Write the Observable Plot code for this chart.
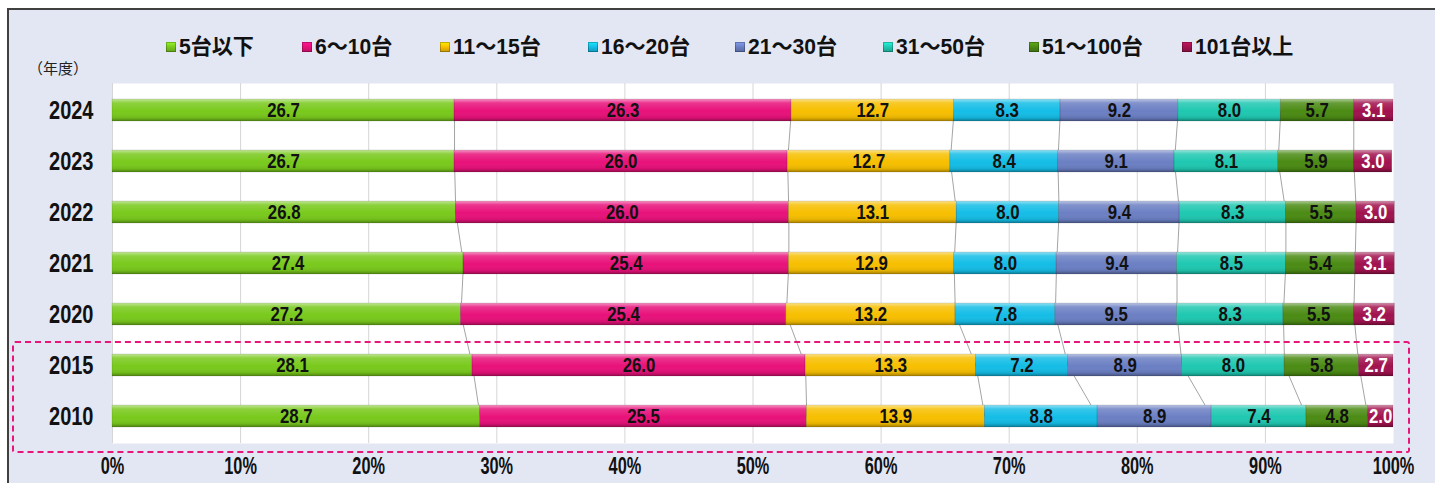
<!DOCTYPE html>
<html>
<head>
<meta charset="utf-8">
<script src="https://cdn.jsdelivr.net/npm/d3@7"></script>
<script src="https://cdn.jsdelivr.net/npm/@observablehq/plot@0.6"></script>
<style>
  html, body { margin: 0; padding: 0; }
  body { width: 1435px; height: 483px; overflow: hidden; background: #fff; position: relative;
         font-family: "Liberation Sans","Noto Sans CJK JP",sans-serif; }
  #frame { position: absolute; left: 7px; top: 8px; width: 1440px; height: 490px; background: #e3e7f3;
           border-top: 2px solid #404040; border-left: 2px solid #404040; }
  #chart { position: absolute; left: 0; top: 0; }
  #legend { position: absolute; left: 0; top: 0; width: 1435px; height: 80px; }
  #legend .item { position: absolute; top: 36px; display: flex; align-items: center; white-space: nowrap;
                  font-weight: bold; font-size: 21.5px; line-height: 22px; color: #111; }
  #legend .sw { width: 10px; height: 10px; margin-right: 3px; flex: none; box-shadow: inset 0 0 0 1px rgba(0,0,0,0.25); }
  #legend .tx { display: inline-block; transform: scaleX(0.98); transform-origin: left center; }
  #unit { position: absolute; left: 28px; top: 57px; font-size: 15px; color: #222; font-family: "Noto Sans CJK JP", sans-serif; }
  #dash { position: absolute; left: 12px; top: 341px; width: 1394px; height: 108px;
          border: 2px dashed #e8157a; border-radius: 3px; }
</style>
</head>
<body>
<div id="frame"></div>
<div id="unit">（年度）</div>
<div id="legend"></div>
<div id="chart"></div>
<div id="dash"></div>
<script>
// ---- data ----
const years = ["2024", "2023", "2022", "2021", "2020", "2015", "2010"];
const categories = ["5台以下", "6～10台", "11～15台", "16～20台", "21～30台", "31～50台", "51～100台", "101台以上"];
const colors = ["#79c91c", "#e8117a", "#f7bf00", "#14bde6", "#6b7fc3", "#1fc8b1", "#4b8b14", "#a1124e"];
const s5orLess = [26.7, 26.7, 26.8, 27.4, 27.2, 28.1, 28.7];
const s6to10 = [26.3, 26.0, 26.0, 25.4, 25.4, 26.0, 25.5];
const s11to15 = [12.7, 12.7, 13.1, 12.9, 13.2, 13.3, 13.9];
const s16to20 = [8.3, 8.4, 8.0, 8.0, 7.8, 7.2, 8.8];
const s21to30 = [9.2, 9.1, 9.4, 9.4, 9.5, 8.9, 8.9];
const s31to50 = [8.0, 8.1, 8.3, 8.5, 8.3, 8.0, 7.4];
const s51to100 = [5.7, 5.9, 5.5, 5.4, 5.5, 5.8, 4.8];
const s101plus = [3.1, 3.0, 3.0, 3.1, 3.2, 2.7, 2.0];
const xTicks = [0, 10, 20, 30, 40, 50, 60, 70, 80, 90, 100];

const series = [s5orLess, s6to10, s11to15, s16to20, s21to30, s31to50, s51to100, s101plus];

// ---- derived table (stacked) ----
const rows = [];
const cums = years.map((y, i) => {
  let c = 0; const out = [0];
  series.forEach((s, k) => {
    rows.push({year: y, cat: categories[k], value: s[i], x1: c, x2: c + s[i], mid: c + s[i] / 2, last: k === series.length - 1});
    c += s[i]; out.push(c);
  });
  return out;
});
const links = [];
for (let i = 0; i < years.length - 1; i++) {
  for (let k = 1; k < categories.length; k++) {
    links.push({y1: years[i], y2: years[i + 1], x1: cums[i][k], x2: cums[i + 1][k]});
  }
}

// ---- legend ----
const legendLeft = [166, 302, 440, 588, 735, 883, 1029, 1182];
const leg = document.getElementById("legend");
categories.forEach((c, k) => {
  const it = document.createElement("div"); it.className = "item";
  it.style.left = legendLeft[k] + "px";
  const sw = document.createElement("div"); sw.className = "sw";
  sw.style.background = `linear-gradient(180deg, ${d3.color(colors[k]).brighter(0.6)} 0%, ${colors[k]} 50%, ${d3.color(colors[k]).darker(0.6)} 100%)`;
  const t = document.createElement("span"); t.className = "tx"; t.textContent = c;
  it.appendChild(sw); it.appendChild(t); leg.appendChild(it);
});

const FONT = '"Liberation Sans","Noto Sans CJK JP",sans-serif';

const defs = () => {
  const d = d3.create("svg:defs");
  const g = d.append("linearGradient").attr("id", "shine").attr("x1", 0).attr("y1", 0).attr("x2", 0).attr("y2", 1);
  g.append("stop").attr("offset", "0%").attr("stop-color", "#fff").attr("stop-opacity", 0.55);
  g.append("stop").attr("offset", "18%").attr("stop-color", "#fff").attr("stop-opacity", 0.15);
  g.append("stop").attr("offset", "55%").attr("stop-color", "#fff").attr("stop-opacity", 0);
  g.append("stop").attr("offset", "85%").attr("stop-color", "#000").attr("stop-opacity", 0.08);
  g.append("stop").attr("offset", "100%").attr("stop-color", "#000").attr("stop-opacity", 0.35);
  return d.node();
};

const chart = Plot.plot({
  width: 1435,
  height: 483,
  marginLeft: 112,
  marginRight: 42,
  marginTop: 83,
  marginBottom: 40,
  style: {background: "transparent", fontFamily: FONT, fontWeight: "bold", color: "#111", overflow: "visible"},
  x: {domain: [0, 100], ticks: xTicks, tickFormat: d => d + "%", label: null},
  y: {domain: years, type: "band", paddingInner: 0.57, paddingOuter: 0.285, label: null},
  color: {domain: categories, range: colors},
  marks: [
    defs,
    Plot.frame({fill: "white", stroke: null}),
    Plot.ruleX(xTicks.slice(0, -1), {stroke: "#d6d6d6", strokeWidth: 1}),
    Plot.link(links, {x1: "x1", x2: "x2", y1: "y1", y2: "y2", stroke: "#9a9a9a", strokeWidth: 0.9}),
    Plot.barX(rows, {x1: "x1", x2: "x2", y: "year", fill: "cat"}),
    Plot.barX(rows, {x1: "x1", x2: "x2", y: "year", fill: "url(#shine)", stroke: "rgba(0,0,0,0.18)", strokeWidth: 0.6}),
    Plot.text(rows.filter(d => !d.last), {x: "mid", y: "year", text: d => d.value.toFixed(1), fill: "#111", fontSize: 21, fontWeight: "bold", fontFamily: FONT}),
    Plot.text(rows.filter(d => d.last), {x: "mid", y: "year", text: d => d.value.toFixed(1), fill: "#fff", fontSize: 21, fontWeight: "bold", fontFamily: FONT}),
    Plot.axisX({ticks: xTicks, tickFormat: d => d + "%", tickSize: 0, tickPadding: 13, fontSize: 24, label: null}),
    Plot.axisY({tickSize: 0, tickPadding: 19, fontSize: 25, label: null})
  ]
});
document.getElementById("chart").appendChild(chart);

// condense text horizontally (reference uses a narrow typeface)
function condense(selector, s) {
  chart.querySelectorAll(selector).forEach(t => {
    const tr = t.getAttribute("transform");
    if (tr) t.setAttribute("transform", tr + ` scale(${s},1)`);
    else {
      const x = +t.getAttribute("x") || 0, y = +t.getAttribute("y") || 0;
      t.removeAttribute("x"); t.removeAttribute("y");
      t.setAttribute("transform", `translate(${x},${y}) scale(${s},1)`);
    }
  });
}
condense('g[aria-label="text"] text', 0.8);
condense('g[aria-label="x-axis tick label"] text', 0.68);
condense('g[aria-label="y-axis tick label"] text', 0.8);
</script>
</body>
</html>
